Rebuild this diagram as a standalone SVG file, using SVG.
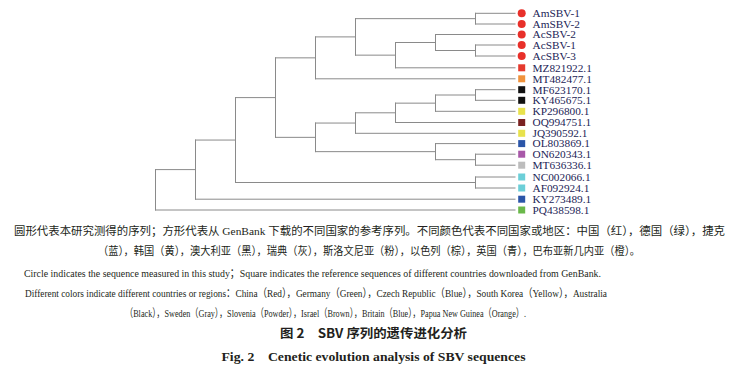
<svg xmlns="http://www.w3.org/2000/svg" width="738" height="371" viewBox="0 0 738 371">
<style>
.br{fill:none;stroke:#8a8a8a;stroke-width:1;stroke-linecap:square}
.lb{font-family:"Liberation Serif","Noto Sans CJK SC",serif;font-size:11.3px;fill:#1c2456}
.cn{font-family:"Liberation Serif","Noto Sans CJK SC",serif;font-size:11.3px;fill:#231f20}
.en{font-family:"Liberation Serif","Noto Sans CJK SC",serif;font-size:11.3px;fill:#231f20}
.t1{font-family:"Noto Sans CJK SC",sans-serif;font-size:12.5px;font-weight:700;fill:#231f20}
.t2{font-family:"Liberation Serif",serif;font-size:13px;font-weight:700;fill:#231f20}
</style>
<rect width="738" height="371" fill="#fff"/>
<g id="connectors">
<path class="br" d="M155.5 169.6V210M155.5 169.6H195.5M155.5 210H515"/>
<path class="br" d="M195.5 140.05V199.2M195.5 140.05H235.5M195.5 199.2H515"/>
<path class="br" d="M235.5 97.6V182.5M235.5 97.6H275.5M235.5 182.5H475.5"/>
<path class="br" d="M475.5 177V188M475.5 177H515M475.5 188H515"/>
<path class="br" d="M275.5 57.85V137.35M275.5 57.85H315.5M275.5 137.35H315.5"/>
<path class="br" d="M315.5 36.9V78.8M315.5 36.9H355.5M315.5 78.8H515"/>
<path class="br" d="M355.5 18.65V55.15M355.5 18.65H475.5M355.5 55.15H395.5"/>
<path class="br" d="M475.5 13.3V24M475.5 13.3H515M475.5 24H515"/>
<path class="br" d="M395.5 42.5V67.8M395.5 42.5H435.5M395.5 67.8H515"/>
<path class="br" d="M435.5 34.5V50.5M435.5 34.5H515M435.5 50.5H475.5"/>
<path class="br" d="M475.5 45V56M475.5 45H515M475.5 56H515"/>
<path class="br" d="M315.5 123.05V151.65M315.5 123.05H355.5M315.5 151.65H435.5"/>
<path class="br" d="M355.5 112.8V133.3M355.5 112.8H395.5M355.5 133.3H515"/>
<path class="br" d="M395.5 103.15V122.5M395.5 103.15H435.5M395.5 122.5H515"/>
<path class="br" d="M435.5 95V111.3M435.5 95H475.5M435.5 111.3H515"/>
<path class="br" d="M475.5 89.7V100.3M475.5 89.7H515M475.5 100.3H515"/>
<path class="br" d="M435.5 143.6V159.7M435.5 143.6H515M435.5 159.7H475.5"/>
<path class="br" d="M475.5 154.2V165.2M475.5 154.2H515M475.5 165.2H515"/>
</g>
<g id="leaf-AmSBV-1"><circle cx="521.7" cy="13.3" r="4" fill="#e8302a"/><text class="lb" x="532.5" y="17.1">AmSBV-1</text></g>
<g id="leaf-AmSBV-2"><circle cx="521.7" cy="24" r="4" fill="#e8302a"/><text class="lb" x="532.5" y="27.8">AmSBV-2</text></g>
<g id="leaf-AcSBV-2"><circle cx="521.7" cy="34.5" r="4" fill="#e8302a"/><text class="lb" x="532.5" y="38.3">AcSBV-2</text></g>
<g id="leaf-AcSBV-1"><circle cx="521.7" cy="45" r="4" fill="#e8302a"/><text class="lb" x="532.5" y="48.8">AcSBV-1</text></g>
<g id="leaf-AcSBV-3"><circle cx="521.7" cy="56" r="4" fill="#e8302a"/><text class="lb" x="532.5" y="59.8">AcSBV-3</text></g>
<g id="leaf-MZ821922"><rect x="518.2" y="64.3" width="7" height="7" fill="#e53a2e"/><text class="lb" x="532.5" y="71.6">MZ821922.1</text></g>
<g id="leaf-MT482477"><rect x="518.2" y="75.3" width="7" height="7" fill="#f0923c"/><text class="lb" x="532.5" y="82.6">MT482477.1</text></g>
<g id="leaf-MF623170"><rect x="518.2" y="86.2" width="7" height="7" fill="#111"/><text class="lb" x="532.5" y="93.5">MF623170.1</text></g>
<g id="leaf-KY465675"><rect x="518.2" y="96.8" width="7" height="7" fill="#111"/><text class="lb" x="532.5" y="104.1">KY465675.1</text></g>
<g id="leaf-KP296800"><rect x="518.2" y="107.8" width="7" height="7" fill="#e8e24c"/><text class="lb" x="532.5" y="115.1">KP296800.1</text></g>
<g id="leaf-OQ994751"><rect x="518.2" y="119" width="7" height="7" fill="#7a2222"/><text class="lb" x="532.5" y="126.3">OQ994751.1</text></g>
<g id="leaf-JQ390592"><rect x="518.2" y="129.8" width="7" height="7" fill="#e8e24c"/><text class="lb" x="532.5" y="137.1">JQ390592.1</text></g>
<g id="leaf-OL803869"><rect x="518.2" y="140.1" width="7" height="7" fill="#2b55a8"/><text class="lb" x="532.5" y="147.4">OL803869.1</text></g>
<g id="leaf-ON620343"><rect x="518.2" y="150.7" width="7" height="7" fill="#a858a8"/><text class="lb" x="532.5" y="158">ON620343.1</text></g>
<g id="leaf-MT636336"><rect x="518.2" y="161.7" width="7" height="7" fill="#bdbdbd"/><text class="lb" x="532.5" y="169">MT636336.1</text></g>
<g id="leaf-NC002066"><rect x="518.2" y="173.5" width="7" height="7" fill="#6ccfd8"/><text class="lb" x="532.5" y="180.8">NC002066.1</text></g>
<g id="leaf-AF092924"><rect x="518.2" y="184.5" width="7" height="7" fill="#6ccfd8"/><text class="lb" x="532.5" y="191.8">AF092924.1</text></g>
<g id="leaf-KY273489"><rect x="518.2" y="195.7" width="7" height="7" fill="#2b55a8"/><text class="lb" x="532.5" y="203">KY273489.1</text></g>
<g id="leaf-PQ438598"><rect x="518.2" y="206.5" width="7" height="7" fill="#6ab84a"/><text class="lb" x="532.5" y="213.8">PQ438598.1</text></g>
<g id="caption">
<text class="cn" x="14" y="234.5" textLength="711" lengthAdjust="spacingAndGlyphs">圆形代表本研究测得的序列；方形代表从 GenBank 下载的不同国家的参考序列。不同颜色代表不同国家或地区：中国（红），德国（绿），捷克</text>
<text class="cn" x="98" y="254.5" textLength="542" lengthAdjust="spacingAndGlyphs">（蓝），韩国（黄），澳大利亚（黑），瑞典（灰），斯洛文尼亚（粉），以色列（棕），英国（青），巴布亚新几内亚（橙）。</text>
<text class="en" x="24" y="277" textLength="577" lengthAdjust="spacingAndGlyphs">Circle indicates the sequence measured in this study；Square indicates the reference sequences of different countries downloaded from GenBank.</text>
<text class="en" x="25" y="297" textLength="582" lengthAdjust="spacingAndGlyphs">Different colors indicate different countries or regions：China（Red），Germany（Green），Czech Republic（Blue），South Korea（Yellow），Australia</text>
<text class="en" x="125" y="316.5" textLength="401" lengthAdjust="spacingAndGlyphs">（Black），Sweden（Gray），Slovenia（Powder），Israel（Brown），Britain（Blue），Papua New Guinea（Orange）.</text>
<text class="t1" x="280" y="337.8" textLength="187" lengthAdjust="spacingAndGlyphs">图 2　SBV 序列的遗传进化分析</text>
<text class="t2" x="221.5" y="361" textLength="304" lengthAdjust="spacingAndGlyphs">Fig. 2　Cenetic evolution analysis of SBV sequences</text>
</g>
</svg>
